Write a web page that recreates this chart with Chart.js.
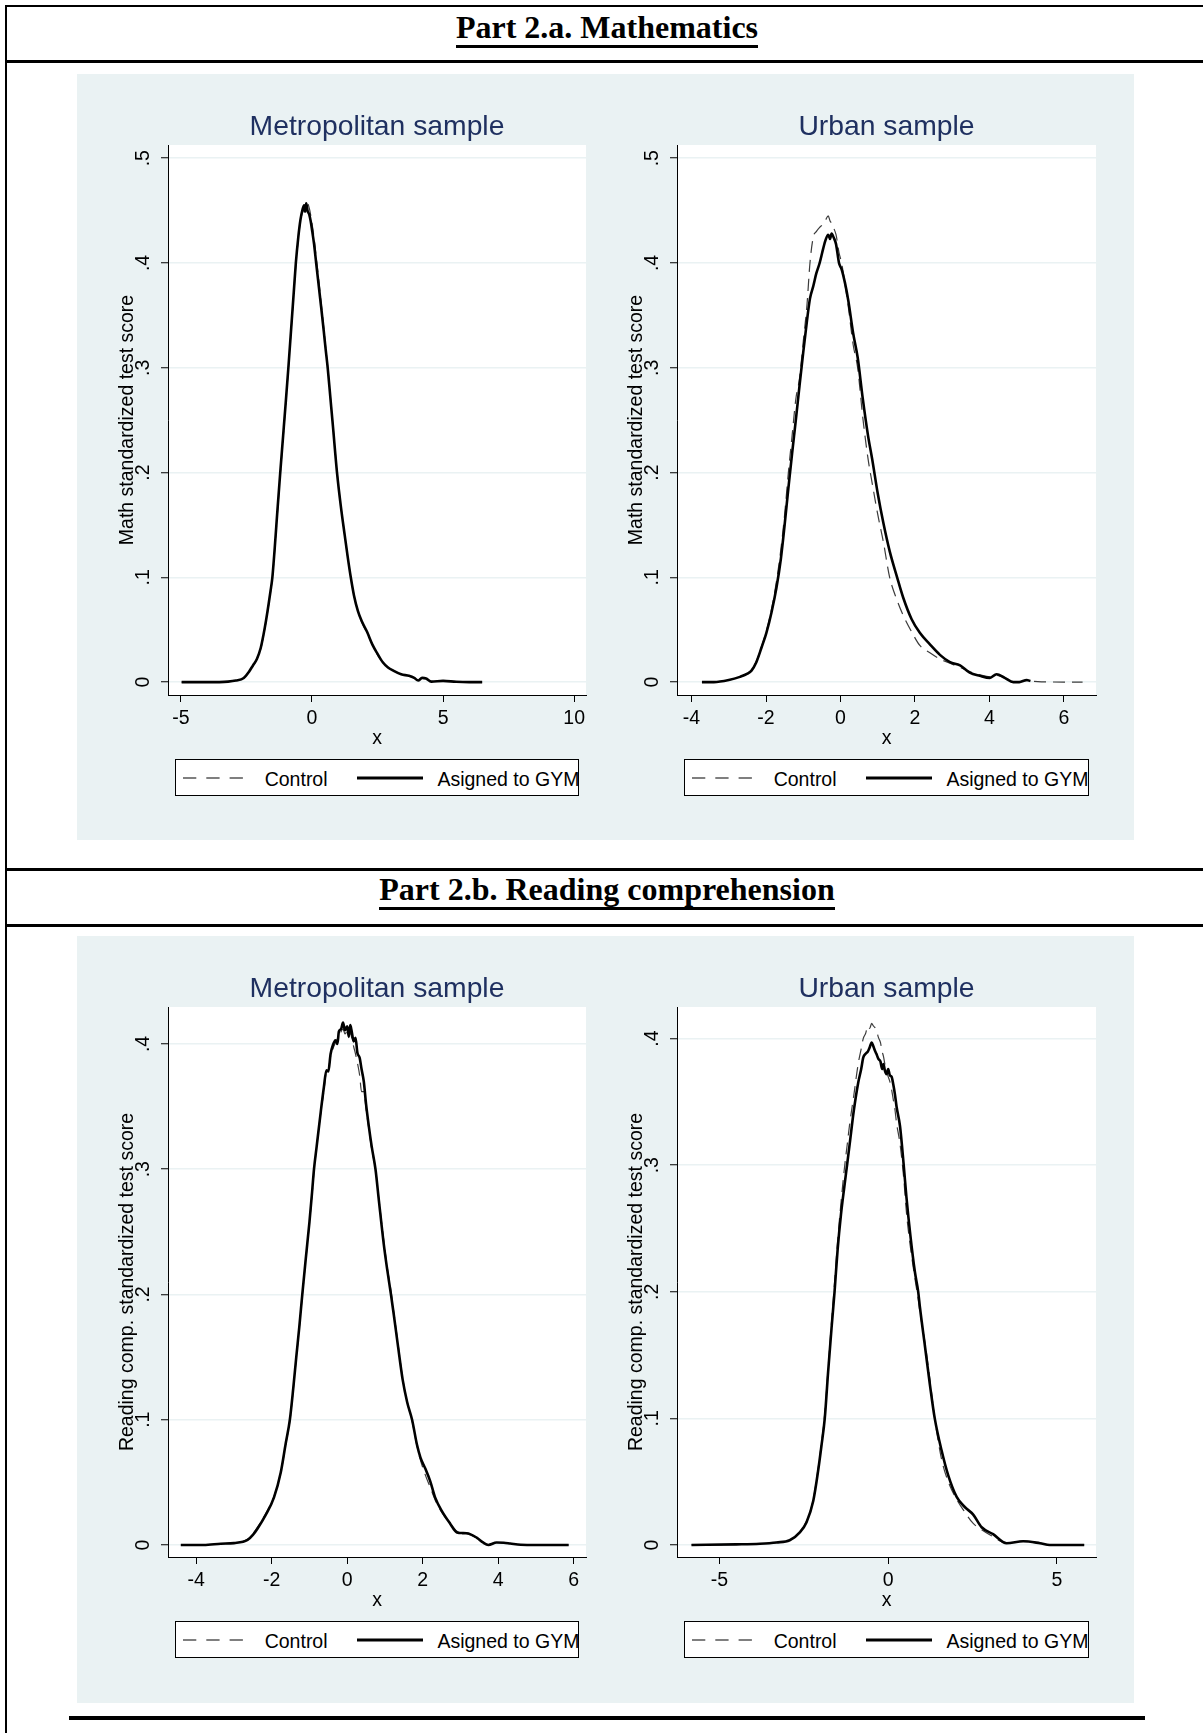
<!DOCTYPE html>
<html>
<head>
<meta charset="utf-8">
<title>Part 2 - test score densities</title>
<script src="https://cdn.jsdelivr.net/npm/chart.js@4.4.1/dist/chart.umd.min.js"></script>
<style>
  html, body { margin: 0; padding: 0; background: #fff; }
  body { position: relative; width: 1203px; height: 1733px; overflow: hidden; font-family: 'Liberation Sans', Arial, sans-serif; }
  .rule { position: absolute; background: #000; }
  .part { position: absolute; left: 0; width: 1214px; text-align: center; font-size: 0; }
  .part span { display: inline-block; font: bold 32px/32px 'Liberation Serif', 'Times New Roman', serif; color: #000;
               padding-bottom: 1.5px; border-bottom: 3px solid #000; white-space: nowrap; }
  .panel { position: absolute; left: 77px; width: 1057px; background: #eaf2f3; }
  .plot { position: absolute; }
  .legend { position: absolute; box-sizing: border-box; height: 37px; background: #fff; border: 1px solid #000;
            overflow: hidden; font-size: 19.5px; color: #000; }
  .legend svg { position: absolute; top: 14.3px; }
  .legend span { position: absolute; top: 7.3px; line-height: 22px; white-space: nowrap; }
</style>
</head>
<body>

<div class="rule" style="left:5px;top:5px;width:1198px;height:2px"></div>
<div class="rule" style="left:5px;top:5px;width:2px;height:1728px"></div>
<div class="rule" style="left:5px;top:60px;width:1198px;height:3px"></div>
<div class="rule" style="left:5px;top:868px;width:1198px;height:3px"></div>
<div class="rule" style="left:5px;top:924px;width:1198px;height:3px"></div>
<div class="rule" style="left:69px;top:1716px;width:1076px;height:4px"></div>

<div class="part" style="top:11px"><span>Part 2.a. Mathematics</span></div>
<div class="part" style="top:873px"><span>Part 2.b. Reading comprehension</span></div>

<div class="panel" style="top:74px;height:766px"></div>
<div class="panel" style="top:936px;height:767px"></div>

<script>
// **********************************************
// Data

const seriesNames = ['Control', 'Asigned to GYM'];

// Part 2.a - Mathematics
const mathYTitle = 'Math standardized test score';
const mathYTicks = [0, 0.1, 0.2, 0.3, 0.4, 0.5];
const mathYLabels = ['0', '.1', '.2', '.3', '.4', '.5'];

const mathMetroXTicks = [-5, 0, 5, 10];
const mathMetroXLabels = ['-5', '0', '5', '10'];
const mathMetroX = [-4.97, -4.0, -3.2, -2.9, -2.6, -2.4, -2.25, -2.1, -1.95, -1.85, -1.75, -1.65, -1.58, -1.51,
  -1.42, -1.32, -1.21, -1.1, -1.0, -0.9, -0.8, -0.7, -0.615, -0.52, -0.44, -0.36, -0.3, -0.26, -0.22, -0.17,
  -0.1, -0.05, 0.0, 0.08, 0.16, 0.25, 0.35, 0.45, 0.52, 0.6, 0.7, 0.8, 0.955, 1.1, 1.25, 1.36, 1.48, 1.6,
  1.75, 1.9, 2.1, 2.3, 2.5, 2.7, 2.9, 3.1, 3.4, 3.7, 3.9, 4.05, 4.2, 4.35, 4.55, 5.0, 5.5, 6.0, 6.49];
const mathMetroControl = [0, 0, 0.0005, 0.0015, 0.004, 0.01, 0.015, 0.022, 0.032, 0.044, 0.058, 0.074, 0.086, 0.099,
  0.126, 0.16, 0.198, 0.233, 0.266, 0.299, 0.334, 0.368, 0.398, 0.423, 0.44, 0.448, 0.451, 0.454, 0.452, 0.457,
  0.452, 0.446, 0.438, 0.424, 0.406, 0.386, 0.362, 0.338, 0.32, 0.301, 0.273, 0.245, 0.201, 0.168, 0.14, 0.12, 0.1, 0.083,
  0.068, 0.057, 0.047, 0.036, 0.026, 0.019, 0.014, 0.011, 0.0075, 0.006, 0.004, 0.0015, 0.004, 0.0035, 0.0005, 0.0012, 0.0003, 0, 0];
const mathMetroGym = [0, 0, 0.0005, 0.0015, 0.004, 0.01, 0.016, 0.022, 0.033, 0.045, 0.059, 0.075, 0.087, 0.1,
  0.128, 0.163, 0.2, 0.235, 0.267, 0.3, 0.335, 0.37, 0.4, 0.425, 0.441, 0.451, 0.455, 0.449, 0.457, 0.45,
  0.446, 0.44, 0.432, 0.418, 0.4, 0.38, 0.358, 0.335, 0.318, 0.3, 0.272, 0.244, 0.2, 0.168, 0.14, 0.12, 0.1, 0.083,
  0.068, 0.058, 0.048, 0.036, 0.027, 0.019, 0.014, 0.011, 0.0075, 0.006, 0.004, 0.0015, 0.004, 0.0035, 0.0005, 0.0012, 0.0003, 0, 0];

const mathUrbanXTicks = [-4, -2, 0, 2, 4, 6];
const mathUrbanXLabels = ['-4', '-2', '0', '2', '4', '6'];
const mathUrbanX = [-3.72, -3.4, -3.0, -2.7, -2.5, -2.39, -2.26, -2.12, -1.99, -1.85, -1.72, -1.6, -1.5, -1.4,
  -1.3, -1.2, -1.1, -1.0, -0.9, -0.82, -0.73, -0.65, -0.56, -0.47, -0.4, -0.33, -0.28, -0.24, -0.18, -0.12,
  -0.04, 0.03, 0.12, 0.21, 0.34, 0.46, 0.6, 0.74, 0.85, 1.0, 1.15, 1.32, 1.52, 1.68, 1.91, 2.13, 2.4, 2.67,
  2.94, 3.21, 3.47, 3.74, 4.01, 4.19, 4.41, 4.64, 4.8, 5.0, 5.1, 5.3, 5.6, 6.0, 6.5];
const mathUrbanControl = [0, 0, 0.002, 0.005, 0.008, 0.012, 0.02, 0.034, 0.049, 0.07, 0.096, 0.127, 0.16, 0.2,
  0.235, 0.27, 0.29, 0.325, 0.36, 0.4, 0.425, 0.43, 0.434, 0.437, 0.441, 0.445, 0.44, 0.438, 0.433, 0.427,
  0.41, 0.4, 0.38, 0.358, 0.322, 0.3, 0.252, 0.213, 0.19, 0.16, 0.134, 0.1, 0.078, 0.064, 0.048, 0.035, 0.028, 0.022,
  0.018, 0.014, 0.01, 0.007, 0.005, 0.0065, 0.004, 0.0008, 0.0005, 0.0015, 0.001, 0.0005, 0.0002, 0, 0];
const mathUrbanGym = [0, 0, 0.002, 0.005, 0.008, 0.011, 0.019, 0.033, 0.047, 0.067, 0.09, 0.118, 0.15, 0.185,
  0.218, 0.25, 0.283, 0.315, 0.345, 0.366, 0.378, 0.39, 0.4, 0.413, 0.422, 0.427, 0.423, 0.428, 0.424, 0.418,
  0.4, 0.394, 0.381, 0.364, 0.333, 0.31, 0.27, 0.235, 0.213, 0.18, 0.152, 0.125, 0.1, 0.081, 0.06, 0.047, 0.036, 0.026,
  0.019, 0.016, 0.009, 0.006, 0.004, 0.0075, 0.004, 0, 0, 0.002, 0.001, null, null, null, null];

// Part 2.b - Reading comprehension
const readYTitle = 'Reading comp. standardized test score';
const readYTicks = [0, 0.1, 0.2, 0.3, 0.4];
const readYLabels = ['0', '.1', '.2', '.3', '.4'];

const readMetroXTicks = [-4, -2, 0, 2, 4, 6];
const readMetroXLabels = ['-4', '-2', '0', '2', '4', '6'];
const readMetroX = [-4.41, -3.8, -3.35, -3.0, -2.64, -2.5, -2.38, -2.16, -1.94, -1.76, -1.63, -1.52, -1.43, -1.35,
  -1.27, -1.19, -1.1, -1.0, -0.93, -0.88, -0.81, -0.7, -0.62, -0.55, -0.5, -0.44, -0.38, -0.31, -0.26, -0.22,
  -0.16, -0.11, -0.06, 0.0, 0.04, 0.08, 0.12, 0.17, 0.22, 0.27, 0.33, 0.38, 0.44, 0.5, 0.57, 0.65, 0.75, 0.84,
  0.97, 1.06, 1.16, 1.23, 1.35, 1.47, 1.59, 1.72, 1.85, 1.94, 2.07, 2.2, 2.33, 2.51, 2.73, 2.91, 3.05, 3.17,
  3.44, 3.6, 3.74, 3.96, 4.15, 4.32, 4.6, 5.0, 5.87];
const readMetroControl = [0, 0, 0.001, 0.0015, 0.0045, 0.009, 0.014, 0.025, 0.039, 0.058, 0.08, 0.099, 0.124, 0.149,
  0.173, 0.199, 0.227, 0.257, 0.28, 0.298, 0.318, 0.345, 0.362, 0.378, 0.38, 0.39, 0.396, 0.401, 0.404, 0.405,
  0.41, 0.412, 0.408, 0.41, 0.405, 0.409, 0.405, 0.398, 0.392, 0.385, 0.375, 0.362, 0.362, 0.348, 0.333, 0.316, 0.3, 0.276,
  0.243, 0.222, 0.203, 0.187, 0.16, 0.133, 0.114, 0.099, 0.079, 0.068, 0.056, 0.046, 0.036, 0.026, 0.017, 0.011, 0.0095, 0.009,
  0.0055, 0.002, 0.0002, 0.002, 0.0018, 0.0012, 0.0002, 0, 0];
const readMetroGym = [0, 0, 0.001, 0.0015, 0.004, 0.008, 0.013, 0.024, 0.038, 0.058, 0.081, 0.1, 0.125, 0.15,
  0.174, 0.2, 0.228, 0.258, 0.282, 0.3, 0.318, 0.346, 0.365, 0.379, 0.378, 0.392, 0.399, 0.403, 0.4, 0.41,
  0.412, 0.417, 0.411, 0.414, 0.406, 0.415, 0.41, 0.402, 0.405, 0.393, 0.389, 0.38, 0.37, 0.352, 0.335, 0.318, 0.3, 0.275,
  0.24, 0.22, 0.2, 0.185, 0.158, 0.132, 0.114, 0.1, 0.08, 0.07, 0.061, 0.051, 0.038, 0.027, 0.017, 0.01, 0.0095, 0.0094,
  0.0057, 0.002, 0, 0.002, 0.0018, 0.0012, 0.0002, 0, 0];

const readUrbanXTicks = [-5, 0, 5];
const readUrbanXLabels = ['-5', '0', '5'];
const readUrbanX = [-5.83, -4.5, -3.8, -3.31, -2.92, -2.62, -2.42, -2.22, -2.08, -1.98, -1.88, -1.78, -1.68, -1.59,
  -1.5, -1.4, -1.3, -1.22, -1.14, -1.02, -0.89, -0.8, -0.74, -0.67, -0.6, -0.55, -0.49, -0.44, -0.4, -0.35,
  -0.29, -0.23, -0.18, -0.14, -0.1, -0.05, 0.0, 0.05, 0.1, 0.15, 0.2, 0.25, 0.35, 0.46, 0.54, 0.66, 0.79, 0.89,
  0.94, 1.09, 1.24, 1.38, 1.58, 1.78, 2.03, 2.27, 2.52, 2.77, 3.11, 3.51, 4.0, 4.5, 4.79, 5.3, 5.81];
const readUrbanControl = [0, 0.0005, 0.001, 0.002, 0.0037, 0.01, 0.019, 0.036, 0.06, 0.08, 0.104, 0.14, 0.176, 0.207,
  0.24, 0.27, 0.297, 0.315, 0.333, 0.355, 0.38, 0.392, 0.4, 0.404, 0.41, 0.408, 0.412, 0.41, 0.409, 0.407,
  0.401, 0.397, 0.39, 0.386, 0.38, 0.374, 0.37, 0.366, 0.36, 0.352, 0.344, 0.333, 0.317, 0.29, 0.263, 0.235, 0.211, 0.194,
  0.184, 0.16, 0.13, 0.1, 0.068, 0.05, 0.036, 0.026, 0.017, 0.012, 0.0065, 0.0014, 0.003, 0.0014, 0, 0, 0];
const readUrbanGym = [0, 0.0005, 0.001, 0.002, 0.0037, 0.01, 0.018, 0.035, 0.058, 0.078, 0.1, 0.137, 0.171, 0.2,
  0.233, 0.261, 0.283, 0.3, 0.317, 0.343, 0.365, 0.376, 0.385, 0.388, 0.39, 0.393, 0.397, 0.394, 0.391, 0.388,
  0.384, 0.382, 0.376, 0.38, 0.375, 0.372, 0.376, 0.371, 0.37, 0.364, 0.356, 0.346, 0.331, 0.3, 0.275, 0.244, 0.216, 0.2,
  0.188, 0.157, 0.126, 0.1, 0.075, 0.055, 0.038, 0.03, 0.024, 0.014, 0.0085, 0.0014, 0.003, 0.0014, 0, 0, 0];

// **********************************************
// Panels (plot area position in page pixels + axis ranges)

const panels = [
  { left: 168, top: 145, width: 418, title: 'Metropolitan sample', yTitle: mathYTitle,
    x: mathMetroX, control: mathMetroControl, gym: mathMetroGym,
    xMin: -5.49, xMax: 10.45, xTicks: mathMetroXTicks, xLabels: mathMetroXLabels,
    yMin: -0.0123, yMax: 0.5126, yTicks: mathYTicks, yLabels: mathYLabels },
  { left: 677, top: 145, width: 419, title: 'Urban sample', yTitle: mathYTitle,
    x: mathUrbanX, control: mathUrbanControl, gym: mathUrbanGym,
    xMin: -4.39, xMax: 6.86, xTicks: mathUrbanXTicks, xLabels: mathUrbanXLabels,
    yMin: -0.0123, yMax: 0.5126, yTicks: mathYTicks, yLabels: mathYLabels },
  { left: 168, top: 1007, width: 418, title: 'Metropolitan sample', yTitle: readYTitle,
    x: readMetroX, control: readMetroControl, gym: readMetroGym,
    xMin: -4.75, xMax: 6.33, xTicks: readMetroXTicks, xLabels: readMetroXLabels,
    yMin: -0.0096, yMax: 0.4295, yTicks: readYTicks, yLabels: readYLabels },
  { left: 677, top: 1007, width: 419, title: 'Urban sample', yTitle: readYTitle,
    x: readUrbanX, control: readUrbanControl, gym: readUrbanGym,
    xMin: -6.26, xMax: 6.16, xTicks: readUrbanXTicks, xLabels: readUrbanXLabels,
    yMin: -0.0095, yMax: 0.425, yTicks: readYTicks, yLabels: readYLabels }
];

Chart.defaults.font.family = "'Liberation Sans', Arial, sans-serif";
Chart.defaults.font.size = 19.5;
Chart.defaults.color = '#000';

// white plot region on the blue-grey panel
const plotBackground = {
  id: 'plotBackground',
  beforeDraw(chart) {
    const { ctx, chartArea } = chart;
    ctx.save();
    ctx.fillStyle = '#ffffff';
    ctx.fillRect(chartArea.left, chartArea.top, chartArea.width, chartArea.height);
    ctx.restore();
  }
};

function points(xs, ys) {
  const out = [];
  xs.forEach((x, i) => {
    if (ys[i] !== null) out.push({ x: x, y: ys[i] });
  });
  return out;
}

function makeChart(p) {
  const box = document.createElement('div');
  box.className = 'plot';
  box.style.left = (p.left - 70) + 'px';
  box.style.top = (p.top - 60) + 'px';
  const canvas = document.createElement('canvas');
  canvas.width = p.width + 80;
  canvas.height = 665;
  box.appendChild(canvas);
  document.body.appendChild(box);

  new Chart(canvas.getContext('2d'), {
    type: 'line',
    data: {
      datasets: [
        { label: seriesNames[0], data: points(p.x, p.control), borderColor: '#3c3c3c', borderWidth: 1.2,
          borderDash: [12, 7], borderJoin: 'round', cubicInterpolationMode: 'monotone', pointRadius: 0, order: 1 },
        { label: seriesNames[1], data: points(p.x, p.gym), borderColor: '#000000', borderWidth: 2.6,
          borderJoin: 'round', cubicInterpolationMode: 'monotone', pointRadius: 0, order: 0 }
      ]
    },
    options: {
      responsive: false,
      animation: false,
      events: [],
      layout: { padding: { left: 0, right: 10, top: 0, bottom: 0 } },
      plugins: {
        legend: { display: false },
        tooltip: { enabled: false },
        title: {
          display: true,
          text: p.title,
          fullSize: false,
          color: '#1f3060',
          font: { size: 28.3, weight: 'normal', lineHeight: 1.2 },
          padding: { top: 25.2, bottom: 0.84 }
        }
      },
      scales: {
        x: {
          type: 'linear',
          min: p.xMin,
          max: p.xMax,
          afterBuildTicks: s => { s.ticks = p.xTicks.map(v => ({ value: v })); },
          afterFit: s => { s.height = 55; },
          ticks: { autoSkip: false, maxRotation: 0, padding: 5.4, callback: (v, i) => p.xLabels[i] },
          grid: { drawOnChartArea: false, tickLength: 7, tickColor: '#000', tickWidth: 1 },
          border: { color: '#000', width: 1 },
          title: { display: true, text: 'x', padding: 0 }
        },
        y: {
          min: p.yMin,
          max: p.yMax,
          afterBuildTicks: s => { s.ticks = p.yTicks.map(v => ({ value: v })); },
          afterFit: s => { s.width = 70; },
          ticks: { autoSkip: false, minRotation: 90, maxRotation: 90, crossAlign: 'center', padding: 9,
                   callback: (v, i) => p.yLabels[i] },
          grid: { color: '#eaf2f3', lineWidth: 1.5, tickLength: 7, tickColor: '#000', tickWidth: 1 },
          border: { color: '#000', width: 1 },
          title: { display: true, text: p.yTitle, padding: { top: 18.3, bottom: 0 } }
        }
      }
    },
    plugins: [plotBackground]
  });
}

// legend box under each plot (Stata style, framed)
function makeLegend(p) {
  const lg = document.createElement('div');
  lg.className = 'legend';
  lg.style.left = (p.left + 7) + 'px';
  lg.style.top = (p.top + 614.4) + 'px';
  lg.style.width = (p.width - 14) + 'px';
  lg.innerHTML =
    '<svg style="left:6.6px" width="62" height="6"><line x1="0" y1="3" x2="62" y2="3" stroke="#555" stroke-width="1.3" stroke-dasharray="13.3 10"/></svg>' +
    '<span style="left:88.7px">' + seriesNames[0] + '</span>' +
    '<svg style="left:180.5px" width="66" height="6"><line x1="0" y1="3" x2="66" y2="3" stroke="#000" stroke-width="2.8"/></svg>' +
    '<span style="left:261.4px">' + seriesNames[1] + '</span>';
  document.body.appendChild(lg);
}

panels.forEach(p => {
  makeChart(p);
  makeLegend(p);
});
</script>
</body>
</html>
